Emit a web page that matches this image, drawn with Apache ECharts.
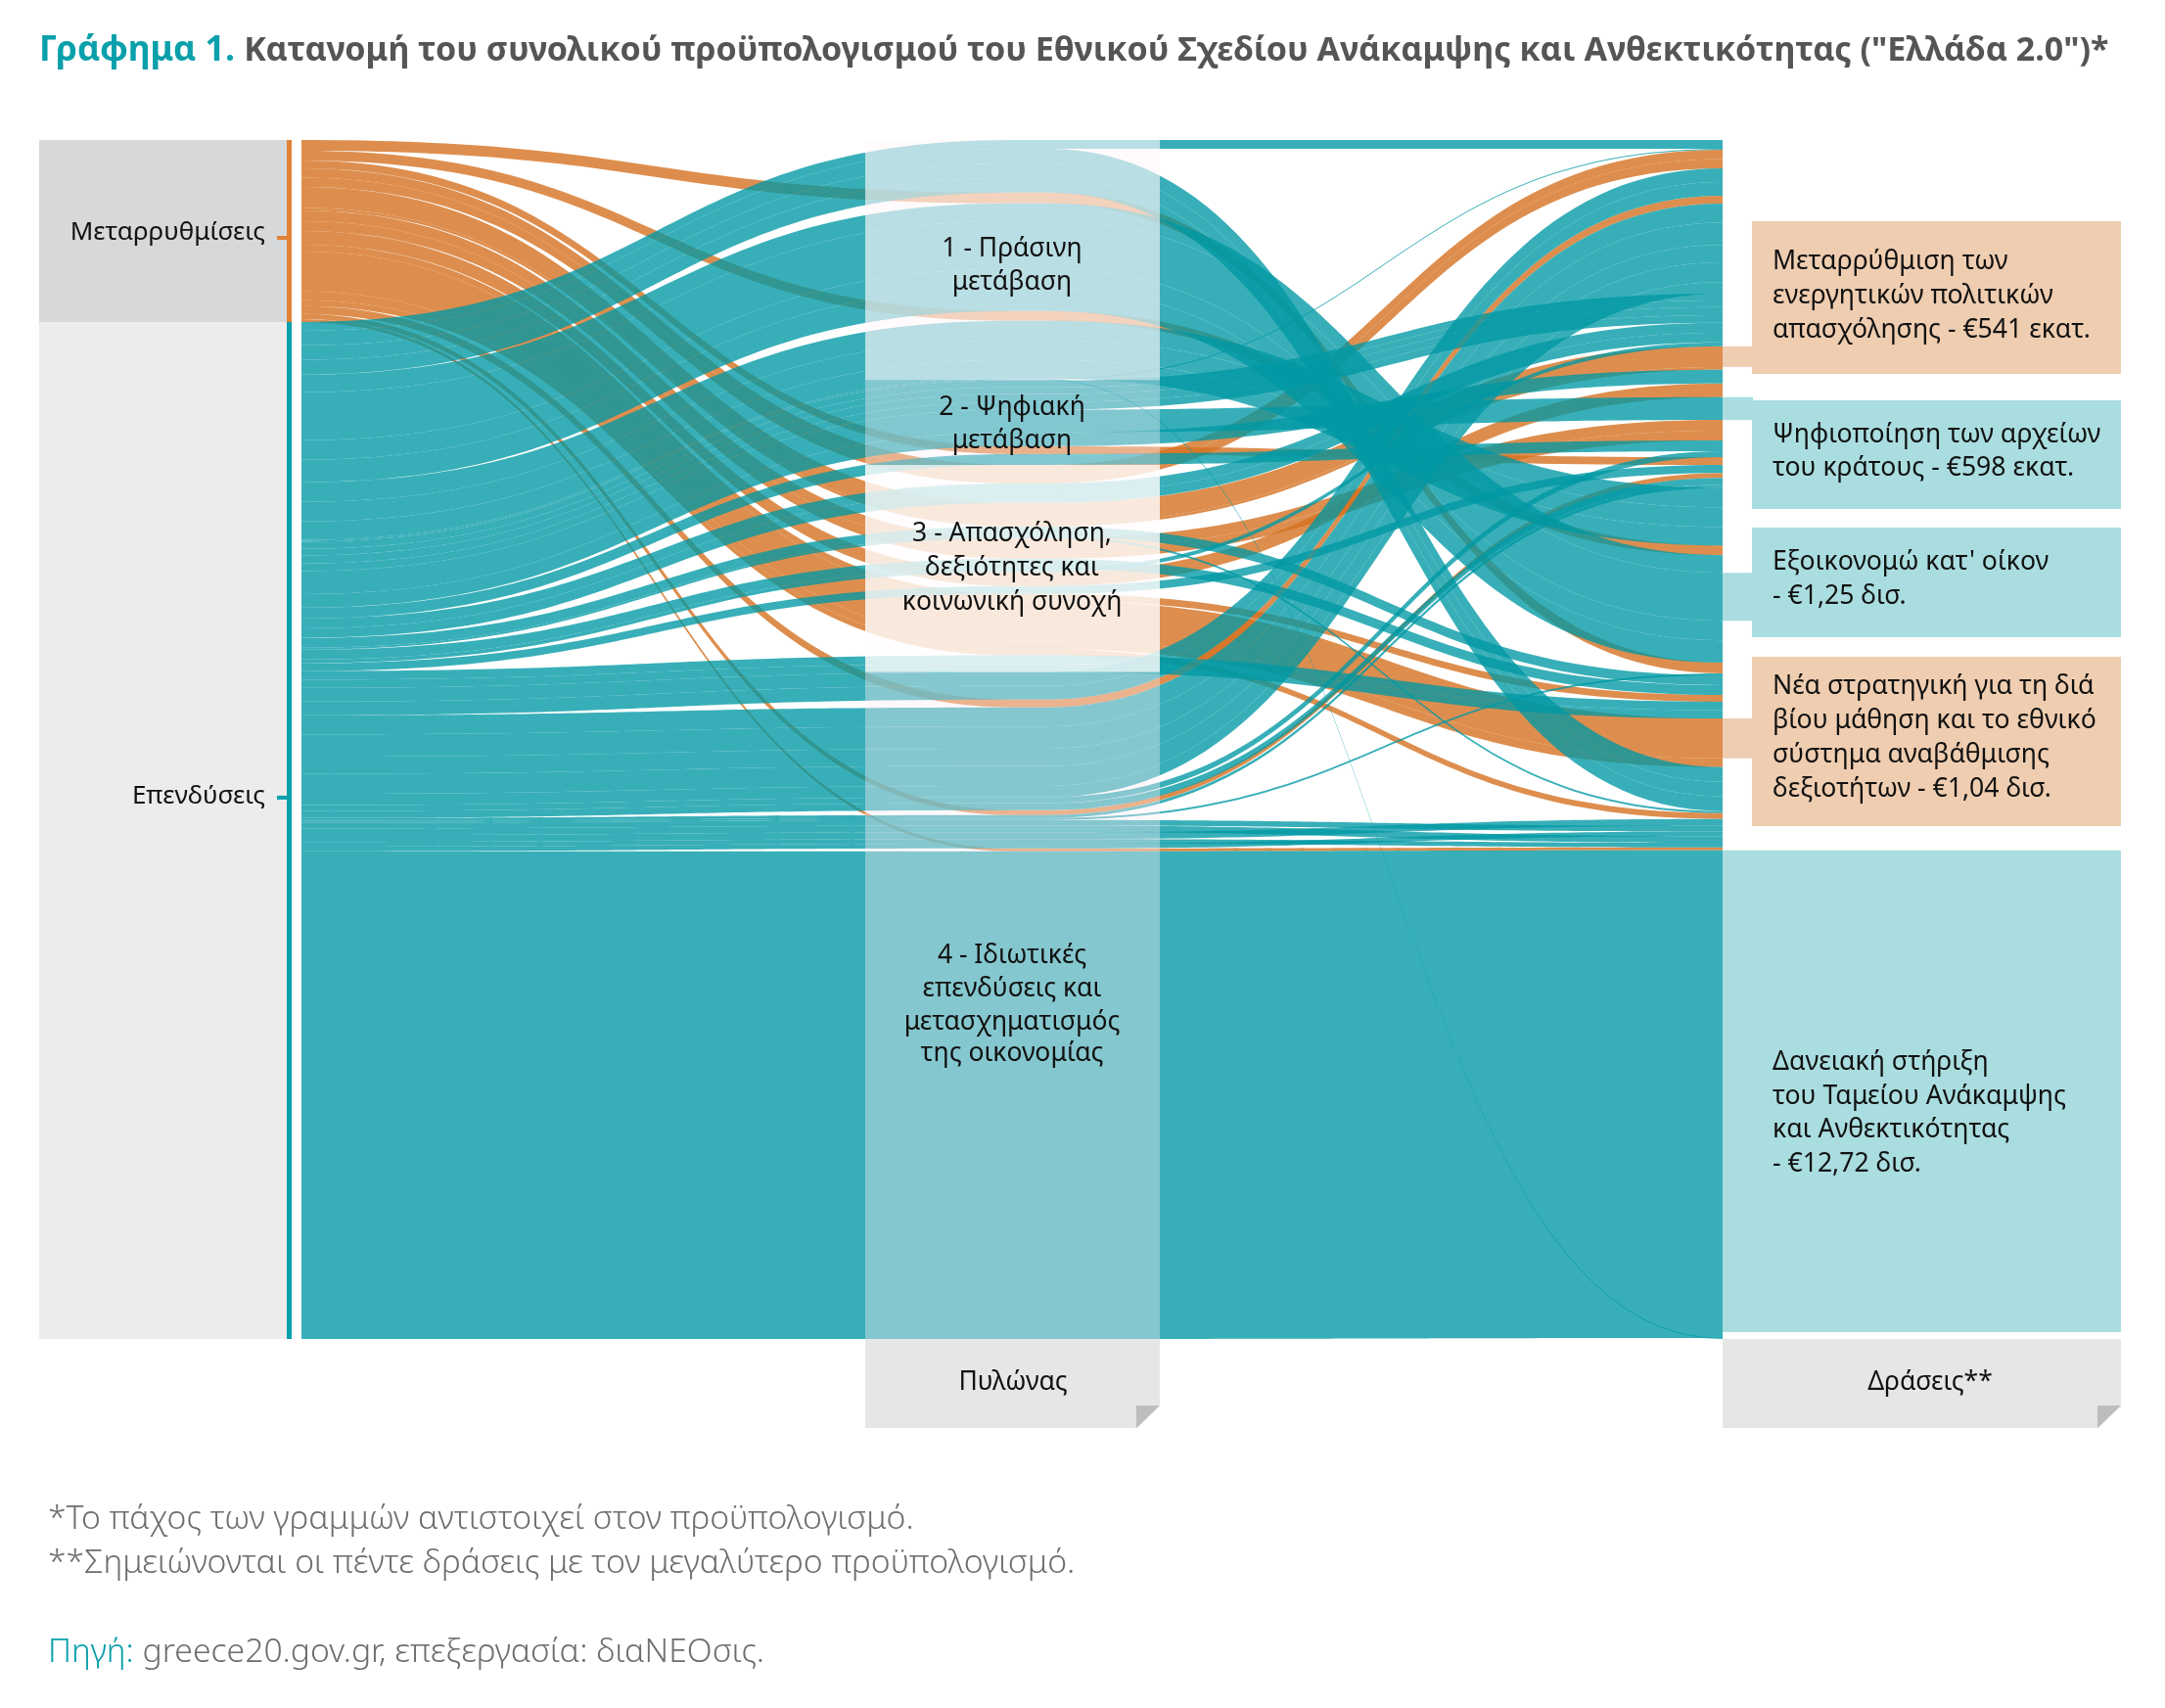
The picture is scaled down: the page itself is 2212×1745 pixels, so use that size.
<!DOCTYPE html>
<html><head><meta charset="utf-8"><title>Ελλάδα 2.0</title>
<style>html,body{margin:0;padding:0;background:#fff}#c{width:2212px;height:1745px}</style>
<script src="https://cdn.jsdelivr.net/npm/echarts@6/dist/echarts.min.js"></script>
</head><body><div id="c"></div><script>
// Budget strands in EUR million. A bundle may hold several strands.
const reformBundles = {
  ids: ['o1','o2','o3','o4','o5a','o5b','o6','o7','o8','o9','o10','o11','o12','o13','o14'],
  values: [[280],[255],[205],[240,245],[541],[75],[280,255],[355],[180],[1040],[230],[155],[205],[130],[75]]
};
const greenBundles = {
  ids: ['g0','g1','g2','g3','x1','z'],
  values: [[230],[380,380,385],[460,1250,510,585],[510,510,485],[25],[25]]
};
const digitalBundles = {
  ids: ['d1','d2','d3','d4','d5'],
  values: [[180,175],[210,200],[598],[355],[280]]
};
const jobsBundles = {
  ids: ['e1','e2','x4','e3a','e3b','e4','e6'],
  values: [[260,250],[255],[50],[255],[100],[205],[220,215]]
};
const privateBundles = {
  ids: ['f1','f2','f3','f4','x2','x3','f6a','f6b','f6c','f6d','f6e','loan'],
  values: [[360,355],[500,580,450,520,295],[155],[180],[75],[50],[150],[170],[180],[125],[120],[12720]]
};
// Stacking order of the bundles in the three columns, top to bottom.
const typeReforms = ['o1','o2','o3','o4','o5a','o5b','o6','o7','o8','o9','o10','o11','o12','o13','o14'];
const typeInvest = ['g0','g1','g2','g3','x1','z','d1','d2','d3','d4','d5','e1','e2','x4','e3a','e3b','e4','e6','f1','f2','f3','f4','x2','x3','f6a','f6b','f6c','f6d','f6e','loan'];
const pillarGreen = ['g0','g1','o1','g2','o2','g3','x1','z'];
const pillarDigital = ['d1','d2','d3','d4','o3','d5'];
const pillarJobs = ['o4','e1','o5a','o5b','e2','x4','o6','e3a','e3b','o7','e4','o8','o9','o10','o11','e6'];
const pillarPrivate = ['f1','o12','f2','f3','f4','o13','x2','x3','f6a','f6b','f6c','f6d','f6e','o14','loan'];
const actionOrder = ['g0','x1','o4','f1','o12','f2','d1','d2','e1','e3b','o5a','o5b','d4','o7','d3','o6','d5','f3','o3','e4','o13','f4','x2','g3','o2','g2','o1','x3','e2','e3a','o8','e6','o9','o10','g1','x4','o11','f6c','f6a','f6e','f6b','f6d','o14','loan','z'];

const titleLead = 'Γράφημα 1. ';
const titleRest = 'Κατανομή του συνολικού προϋπολογισμού του Εθνικού Σχεδίου Ανάκαμψης και Ανθεκτικότητας ("Ελλάδα 2.0")*';
const pillarLabels = [['1 - Πράσινη','μετάβαση'],['2 - Ψηφιακή','μετάβαση'],['3 - Απασχόληση,','δεξιότητες και','κοινωνική συνοχή'],['4 - Ιδιωτικές','επενδύσεις και','μετασχηματισμός','της οικονομίας']];
const notes = ['*Το πάχος των γραμμών αντιστοιχεί στον προϋπολογισμό.','**Σημειώνονται οι πέντε δράσεις με τον μεγαλύτερο προϋπολογισμό.'];

const TEAL='#0098a4', ORANGE='#d47222', FONT='"Noto Sans"';
const NW=36,L=272,T=143,W=1524,H=1225;
const all=[reformBundles,greenBundles,digitalBundles,jobsBundles,privateBundles];
const partsOf={},isReform={};
all.forEach(b=>b.ids.forEach((id,i)=>{partsOf[id]=b.values[i];isReform[id]=b===reformBundles;}));
const sum=a=>a.reduce((s,v)=>s+v,0);
const bundleValue=id=>sum(partsOf[id]);
const total=sum(Object.keys(partsOf).map(bundleValue));
const ky=H/total;
const leftOrder=typeReforms.concat(typeInvest);
const centreOrder=pillarGreen.concat(pillarDigital,pillarJobs,pillarPrivate);
const nodes=[],links=[];
const strandColor=id=>isReform[id]?ORANGE:TEAL, strandAlpha=id=>isReform[id]?0.8:0.78;
[['L',leftOrder],['C',centreOrder],['R',actionOrder]].forEach(([k,order])=>order.forEach(id=>partsOf[id].forEach((v,i)=>{
  const n={name:k+id+'#'+i};
  if(k==='C'){n.localX=0.5;n.itemStyle={color:strandColor(id),opacity:strandAlpha(id),borderWidth:0};}
  nodes.push(n);
})));
const linkStyle=id=>({color:strandColor(id),opacity:strandAlpha(id),curveness:0.5});
[typeReforms,typeInvest].forEach(list=>list.forEach(id=>partsOf[id].forEach((v,i)=>{
  links.push({source:'L'+id+'#'+i,target:'C'+id+'#'+i,value:v,lineStyle:linkStyle(id)});
  links.push({source:'C'+id+'#'+i,target:'R'+id+'#'+i,value:v,lineStyle:linkStyle(id)});
})));

function spanIn(order,first,last){
  let before=0;for(const id of order){if(id===first)break;before+=bundleValue(id);}
  let inside=0,on=false;for(const id of order){if(id===first)on=true;if(on)inside+=bundleValue(id);if(id===last)break;}
  return {y:T+before*ky,h:inside*ky};
}
const rect=(x,y,w,h,fill,z)=>({type:'rect',z:z||1,silent:true,shape:{x,y,width:w,height:h},style:{fill}});
const text=(s,x,y,size,fill,align,weight,z)=>({type:'text',z:z||110,silent:true,x,y,style:{text:s,fontFamily:FONT,fontSize:size,fontWeight:weight||400,fill,align:align||'left',verticalAlign:'middle'}});
const g=[];
// type panels
const spanR=spanIn(leftOrder,typeReforms[0],typeReforms[typeReforms.length-1]);
const spanI=spanIn(leftOrder,typeInvest[0],typeInvest[typeInvest.length-1]);
g.push(rect(40,spanR.y,253,spanR.h,'#d7d8da'),rect(40,spanI.y,253,spanI.h,'#ececec'));
g.push(rect(293,spanR.y,5,spanR.h,'#df8136',2),rect(293,spanI.y,5,spanI.h,'#0aa0ab',2));
g.push(rect(283,spanR.y+98,11,4,'#df8136',2),rect(283,spanI.y+484,11,4,'#0aa0ab',2));
g.push(text('Μεταρρυθμίσεις',271,238,26,'#111','right'),text('Επενδύσεις',271,814,26,'#111','right'));
// pillar overlays
const pillars=[pillarGreen,pillarDigital,pillarJobs,pillarPrivate];
const overlays=['rgba(255,247,250,0.65)','rgba(255,242,250,0.37)','rgba(255,253,253,0.82)','rgba(255,236,244,0.39)'];
const labelY=[[254,288],[416,450],[545,580,615],[976,1010,1044,1076]];
pillars.forEach((p,i)=>{const s=spanIn(centreOrder,p[0],p[p.length-1]);
  g.push(rect(884,s.y,301,s.h,overlays[i],100));
  pillarLabels[i].forEach((t,j)=>g.push(text(t,1034,labelY[i][j],26.5,'#111','center')));
});
// action call-outs
const LO='#efcdb0',LT='#aadde0';
g.push(rect(1790,226,377,156,LO),rect(1790,409,377,111,LT),rect(1790,539,377,112,LT),rect(1790,671,377,173,LO));
[['o5a',LO],['d3',LT],['g2',LT],['o9',LO]].forEach(([id,c],i)=>{
  const s=spanIn(actionOrder,id,id);let y=s.y,h=s.h;
  if(id==='g2'){const p=partsOf.g2;y+=p[0]*ky;h=p[1]*ky;}
  g.push(rect(1760,y,31,h,c));
});
const sl=spanIn(actionOrder,'loan','loan');
g.push(rect(1760,sl.y,407,1361-sl.y,LT));
const boxes=[[['Μεταρρύθμιση των','ενεργητικών πολιτικών','απασχόλησης - €541 εκατ.'],[267,302,337]],
 [['Ψηφιοποίηση των αρχείων','του κράτους - €598 εκατ.'],[444,478]],
 [["Εξοικονομώ κατ' οίκον",'- €1,25 δισ.'],[574,609]],
 [['Νέα στρατηγική για τη διά','βίου μάθηση και το εθνικό','σύστημα αναβάθμισης','δεξιοτήτων - €1,04 δισ.'],[701,736,771,806]],
 [['Δανειακή στήριξη','του Ταμείου Ανάκαμψης','και Ανθεκτικότητας','- €12,72 δισ.'],[1085,1120,1154,1189]]];
boxes.forEach(b=>b[0].forEach((t,j)=>g.push(text(t,1811,b[1][j],26.6,'#111'))));
// tabs
[[884,301,'Πυλώνας',1035],[1760,407,'Δράσεις**',1972]].forEach(([x,w,t,cx])=>{
  g.push(rect(x,1368,w,91,'#e5e7e6'));
  g.push({type:'polygon',z:2,silent:true,shape:{points:[[x+w,1436],[x+w,1460],[x+w-24,1460]]},style:{fill:'#fff'}});
  g.push({type:'polygon',z:3,silent:true,shape:{points:[[x+w-24,1436],[x+w,1436],[x+w-24,1459]]},style:{fill:'#bcbdbc'}});
  g.push(text(t,cx,1412,26.5,'#111','center'));
});
// header and notes
g.push({type:'text',z:110,silent:true,x:40,y:52,style:{text:'{a|'+titleLead+'}{b|'+titleRest+'}',verticalAlign:'middle',rich:{a:{fontFamily:FONT,fontSize:35.5,fontWeight:700,fill:'#0aa0ab'},b:{fontFamily:FONT,fontSize:34,fontWeight:700,fill:'#555'}}}});
g.push(text(notes[0],49,1552,33.7,'#6e6e6e','left',300),text(notes[1],49,1597,33.7,'#6e6e6e','left',300));
g.push({type:'text',z:110,silent:true,x:49,y:1688,style:{text:'{a|Πηγή: }{b|greece20.gov.gr, επεξεργασία: διαΝΕΟσις.}',verticalAlign:'middle',rich:{a:{fontFamily:FONT,fontSize:33.7,fontWeight:300,fill:'#0aa0ab'},b:{fontFamily:FONT,fontSize:33.7,fontWeight:300,fill:'#6e6e6e'}}}});

const chart=echarts.init(document.getElementById('c'),null,{renderer:'canvas'});
chart.setOption({animation:false,backgroundColor:'#fff',tooltip:{show:false},graphic:{elements:g},
 series:[{type:'sankey',left:L,top:T,width:W,height:H,nodeWidth:NW,nodeGap:0,layoutIterations:0,silent:true,draggable:false,
  label:{show:false},itemStyle:{opacity:0,borderWidth:0},emphasis:{disabled:true},data:nodes,links:links}]});
</script></body></html>
